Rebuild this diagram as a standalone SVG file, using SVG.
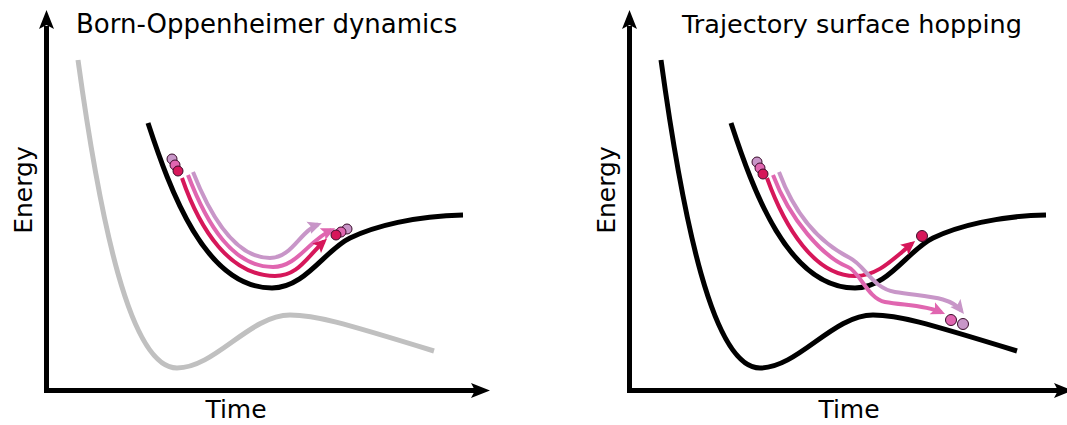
<svg xmlns="http://www.w3.org/2000/svg" width="1067" height="425" viewBox="0 0 1067 425">
<style>
  text { font-family: "DejaVu Sans", "Liberation Sans", sans-serif; font-size: 25px; fill: #000; }
  .title { font-size: 26px; }
  .axis { stroke: #000; stroke-width: 5; fill: none; }
  .head { fill: #000; }
  .pes { fill: none; stroke: #000; stroke-width: 5; stroke-linecap: butt; }
  .gray { stroke: #c0c0c0; }
  .tr { fill: none; stroke-width: 4; }
  .red { stroke: #d6175a; }
  .pink { stroke: #e066b0; }
  .lilac { stroke: #c896c8; }
  .dot { stroke: #3a0c2a; stroke-width: 1; }
</style>
<defs>
  <marker id="mRed" markerUnits="userSpaceOnUse" markerWidth="16" markerHeight="14" refX="10" refY="7" orient="auto">
    <path d="M14,7 L0,0.5 L3,7 L0,13.5 Z" fill="#d6175a"/>
  </marker>
  <marker id="mPink" markerUnits="userSpaceOnUse" markerWidth="16" markerHeight="14" refX="10" refY="7" orient="auto">
    <path d="M14,7 L0,0.5 L3,7 L0,13.5 Z" fill="#e066b0"/>
  </marker>
  <marker id="mLilac" markerUnits="userSpaceOnUse" markerWidth="16" markerHeight="14" refX="10" refY="7" orient="auto">
    <path d="M14,7 L0,0.5 L3,7 L0,13.5 Z" fill="#c896c8"/>
  </marker>
</defs>

<!-- Left panel -->
<g id="left-axes">
  <line class="axis" x1="46.5" y1="393" x2="46.5" y2="26"/>
  <polygon class="head" points="46.5,10 54,29 46.5,25 39,29"/>
  <line class="axis" x1="44" y1="390.5" x2="476" y2="390.5"/>
  <polygon class="head" points="490,390.5 471,383 475,390.5 471,398"/>
</g>
<g id="left-title"><text class="title" x="76" y="33">Born-Oppenheimer dynamics</text></g>
<g id="left-energy"><text transform="translate(32,190) rotate(-90)" text-anchor="middle">Energy</text></g>
<g id="left-time"><text x="236" y="418" text-anchor="middle">Time</text></g>
<g id="left-ground"><path class="pes gray" d="M78,60 C100,220 130,368 177,368 C215,368 250,315 290,315 C315,315 340,322 434,351"/></g>
<g id="left-excited"><path class="pes" d="M148,123 C170,190 205,288 272,288 C305,288 325,250 350,238 C375,226 415,216 463,215"/></g>
<g id="left-trajectories">
  <path class="tr lilac" d="M193,172 C212,220 237,258 270,258 C292,258 300,231 318,224.5" marker-end="url(#mLilac)"/>
  <path class="tr pink" d="M188,175 C207,225 233,267 273,267 C297,267 308,241 331.5,230" marker-end="url(#mPink)"/>
  <path class="tr red" d="M182,178 C200,230 230,276 275,276 C298,276 306,258 324,241.5" marker-end="url(#mRed)"/>
</g>
<g id="left-start-dots">
  <circle class="dot" cx="172" cy="159" r="5" fill="#c896c8"/>
  <circle class="dot" cx="175" cy="165" r="5" fill="#e066b0"/>
  <circle class="dot" cx="178" cy="171" r="5" fill="#d6175a"/>
</g>
<g id="left-end-dots">
  <circle class="dot" cx="347" cy="229" r="5" fill="#c896c8"/>
  <circle class="dot" cx="341" cy="232" r="5" fill="#e066b0"/>
  <circle class="dot" cx="336" cy="235" r="5" fill="#d6175a"/>
</g>

<!-- Right panel -->
<g id="right-axes">
  <line class="axis" x1="629.5" y1="393" x2="629.5" y2="26"/>
  <polygon class="head" points="629.5,10 637,29 629.5,25 622,29"/>
  <line class="axis" x1="627" y1="390.5" x2="1059" y2="390.5"/>
  <polygon class="head" points="1073,390.5 1054,383 1058,390.5 1054,398"/>
</g>
<g id="right-title"><text x="682" y="33" style="font-size:25.5px">Trajectory surface hopping</text></g>
<g id="right-energy"><text transform="translate(615,190) rotate(-90)" text-anchor="middle">Energy</text></g>
<g id="right-time"><text x="849" y="418" text-anchor="middle">Time</text></g>
<g id="right-ground"><path class="pes" transform="translate(583,0)" d="M78,60 C100,220 130,368 177,368 C215,368 250,315 290,315 C315,315 340,322 434,351"/></g>
<g id="right-excited"><path class="pes" transform="translate(583,0)" d="M148,123 C170,190 205,288 272,288 C305,288 325,250 350,238 C375,226 415,216 463,215"/></g>
<g id="right-trajectories">
  <path class="tr red" d="M767,178 C785,228 815,276 855,276 C878,276 893,259 912,243.6" marker-end="url(#mRed)"/>
  <path class="tr lilac" d="M779,172 C795,215 820,243 850,258 C865,265.5 872,288 895,292 C925,297 950,296 961.5,310.8" marker-end="url(#mLilac)"/>
  <path class="tr pink" d="M773,175 C790,220 823,257 848,267 C860,272 868,299 885,302 C905,305.5 925,305 941.4,312.4" marker-end="url(#mPink)"/>
</g>
<g id="right-start-dots">
  <circle class="dot" cx="757" cy="162" r="5" fill="#c896c8"/>
  <circle class="dot" cx="760" cy="168" r="5" fill="#e066b0"/>
  <circle class="dot" cx="763" cy="174" r="5" fill="#d6175a"/>
</g>
<g id="right-end-dots">
  <circle class="dot" cx="922" cy="236" r="5.5" fill="#d6175a"/>
  <circle class="dot" cx="951" cy="320" r="5.5" fill="#e066b0"/>
  <circle class="dot" cx="963" cy="324" r="5.5" fill="#c896c8"/>
</g>
</svg>
